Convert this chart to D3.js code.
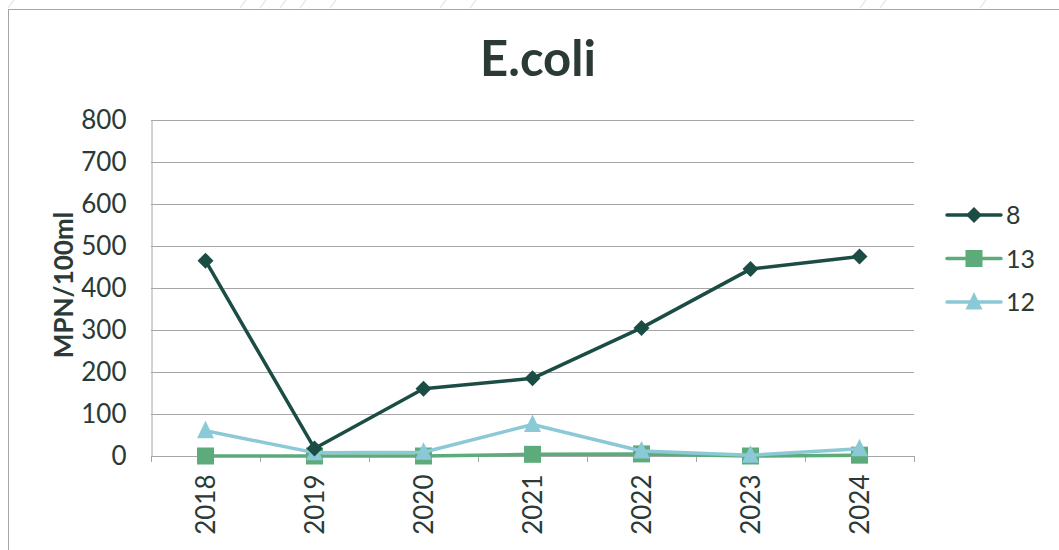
<!DOCTYPE html>
<html>
<head>
<meta charset="utf-8">
<script src="https://cdn.jsdelivr.net/npm/d3@7"></script>
<style>
  html, body { margin: 0; padding: 0; background: #fff; }
  svg { display: block; font-family: Lato, "Open Sans", sans-serif; }
</style>
</head>
<body>
<svg id="chart" width="1059" height="550"></svg>
<script>
// E.coli counts (MPN/100ml) per sampling site, by year
const years = ["2018", "2019", "2020", "2021", "2022", "2023", "2024"];
const site8 = [465, 18, 160, 185, 305, 445, 475];
const site13 = [0, 0, 0, 4, 5, 0, 2];
const site12 = [60, 8, 9, 75, 12, 2, 17];
const yTicks = [0, 100, 200, 300, 400, 500, 600, 700, 800];

const series = [
  { name: "8", values: site8, color: "#1c4d44", shape: "diamond" },
  { name: "13", values: site13, color: "#5dab7b", shape: "square" },
  { name: "12", values: site12, color: "#8bc9d7", shape: "triangle" }
];

const svg = d3.select("#chart");
const textColor = "#2b3a36";

// sheet hatching above the chart frame
const hatch = svg.append("g").attr("stroke", "#e4e4e4").attr("stroke-width", 1.2);
[8, 240, 260, 280, 300, 330, 440, 470, 860, 880, 980]
  .forEach(x0 => hatch.append("line").attr("x1", x0).attr("y1", 8).attr("x2", x0 + 6).attr("y2", 0));

// chart frame
svg.append("rect")
  .attr("x", 8.5).attr("y", 9.5).attr("width", 1060).attr("height", 560)
  .attr("fill", "#fff").attr("stroke", "#a6a6a6").attr("stroke-width", 1);

const plot = { left: 151, right: 914, top: 120, bottom: 456 };

const x = d3.scaleBand().domain(years).range([plot.left, plot.right]);
const y = d3.scaleLinear().domain([0, 800]).range([plot.bottom, plot.top]);
const cx = d => x(d) + x.bandwidth() / 2;

// title
svg.append("text")
  .attr("x", 538).attr("y", 76)
  .attr("text-anchor", "middle")
  .attr("font-size", 49).attr("font-weight", "bold")
  .attr("fill", textColor)
  .text("E.coli");

// horizontal gridlines
svg.append("g")
  .selectAll("line")
  .data(yTicks.filter(t => t > 0))
  .join("line")
  .attr("x1", plot.left).attr("x2", plot.right)
  .attr("y1", d => Math.round(y(d)) + 0.5).attr("y2", d => Math.round(y(d)) + 0.5)
  .attr("stroke", "#a6a6a6").attr("stroke-width", 1);

// y axis
const yAxis = svg.append("g")
  .attr("transform", `translate(${plot.left + 0.5},0)`)
  .call(d3.axisLeft(y).tickValues(yTicks).tickSize(0).tickPadding(25));
yAxis.select(".domain").attr("stroke", "#a6a6a6");
yAxis.selectAll("text")
  .attr("font-size", 26).attr("fill", textColor)
  .attr("font-family", "Lato, sans-serif");

// x axis with ticks between categories
const xAxis = svg.append("g")
  .attr("transform", `translate(0,${plot.bottom + 0.5})`)
  .call(d3.axisBottom(x).tickSize(0).tickPadding(0));
xAxis.select(".domain").attr("stroke", "#a6a6a6").attr("d", `M${plot.left},0H${plot.right}`);
xAxis.selectAll(".tick text")
  .attr("font-size", 26).attr("fill", textColor)
  .attr("font-family", "Lato, sans-serif")
  .attr("transform", "rotate(-90)")
  .attr("text-anchor", "end")
  .attr("x", -18).attr("y", 0).attr("dy", "0.35em");
svg.append("g")
  .selectAll("line")
  .data(years.map(d => x(d)).concat([plot.right]))
  .join("line")
  .attr("x1", d => Math.round(d) + 0.5).attr("x2", d => Math.round(d) + 0.5)
  .attr("y1", plot.bottom).attr("y2", plot.bottom + 6)
  .attr("stroke", "#a6a6a6");

// y axis title
svg.append("text")
  .attr("transform", "translate(73,285) rotate(-90)")
  .attr("text-anchor", "middle")
  .attr("font-size", 26).attr("font-weight", "bold")
  .attr("fill", textColor)
  .text("MPN/100ml");

function marker(g, shape, color) {
  if (shape === "diamond") {
    g.append("path").attr("d", "M0,-8L8,0L0,8L-8,0Z").attr("fill", color);
  } else if (shape === "square") {
    g.append("rect").attr("x", -8.5).attr("y", -8.5).attr("width", 17).attr("height", 17).attr("fill", color);
  } else {
    g.append("path").attr("d", "M0,-10L8.5,7.5L-8.5,7.5Z").attr("fill", color);
  }
}

const line = d3.line().x(d => cx(d.year)).y(d => y(d.value));

// draw series: 13 first, then 12, then 8 on top
[series[1], series[2], series[0]].forEach(s => {
  const pts = years.map((yr, i) => ({ year: yr, value: s.values[i] }));
  const g = svg.append("g");
  g.append("path")
    .datum(pts)
    .attr("d", line)
    .attr("fill", "none")
    .attr("stroke", s.color)
    .attr("stroke-width", 3.5)
    .attr("stroke-linejoin", "round");
  pts.forEach(p => {
    marker(g.append("g").attr("transform", `translate(${cx(p.year)},${y(p.value)})`), s.shape, s.color);
  });
});

// legend
const legend = svg.append("g");
series.forEach((s, i) => {
  const ly = 215 + i * 43.5;
  const g = legend.append("g").attr("transform", `translate(0,${ly})`);
  g.append("line").attr("x1", 947).attr("x2", 1001).attr("y1", 0).attr("y2", 0)
    .attr("stroke", s.color).attr("stroke-width", 3.5).attr("stroke-linecap", "round");
  marker(g.append("g").attr("transform", "translate(974,0)"), s.shape, s.color);
  g.append("text")
    .attr("x", 1006).attr("y", 0).attr("dy", "0.36em")
    .attr("font-size", 25).attr("fill", textColor)
    .text(s.name);
});
</script>
</body>
</html>
